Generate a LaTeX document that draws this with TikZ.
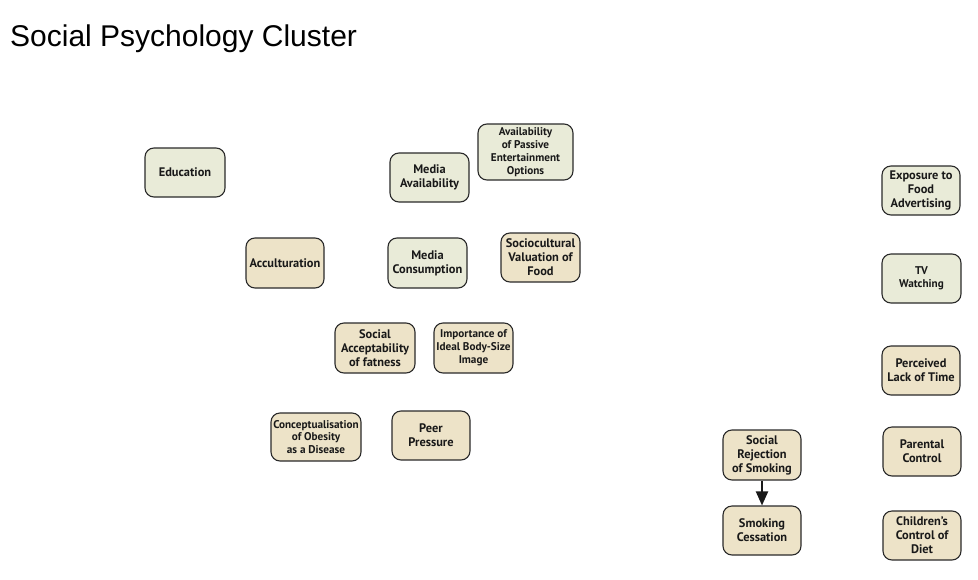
\documentclass[tikz,border=0pt]{standalone}
\usepackage{fontspec}
\setmainfont{PT Sans}
\newfontfamily\titlefont{Liberation Sans}
\usetikzlibrary{arrows.meta}
\definecolor{boxgreen}{HTML}{E9EBD8}
\definecolor{boxtan}{HTML}{EDE3C8}
\definecolor{boxline}{HTML}{2A2A2A}
\tikzset{
  box/.style={draw=boxline, line width=1.1pt, rounded corners=9pt, align=center,
    inner sep=0pt, font=\bfseries\fontsize{12.4}{14}\selectfont, text=black!90},
  gbox/.style={box, fill=boxgreen},
  tbox/.style={box, fill=boxtan},
  small/.style={font=\bfseries\fontsize{11.2}{12.8}\selectfont},
  link/.style={line width=2pt, draw=black!90, -{Triangle[length=14pt,width=12pt]}}
}
\begin{document}
\begin{tikzpicture}[x=1pt,y=-1pt]
\useasboundingbox (0,0) rectangle (978,579);
\fill[white] (0,0) rectangle (978,579);
\node[anchor=base west, font=\titlefont\fontsize{30}{32}\selectfont, inner sep=0pt] (title) at (10,46) {Social Psychology Cluster};

\node[gbox, minimum width=80pt, minimum height=49pt] (edu) at (185,172.5) {Education};
\node[gbox, minimum width=79pt, minimum height=49pt] (mavail) at (429.5,177.5) {Media\\Availability};
\node[gbox, small, minimum width=95pt, minimum height=56pt] (passive) at (525.5,152) {Availability\\of Passive\\Entertainment\\Options};
\node[tbox, minimum width=78pt, minimum height=50pt] (accult) at (285,263) {Acculturation};
\node[gbox, minimum width=79pt, minimum height=50pt] (mcons) at (427.5,263) {Media\\Consumption};
\node[tbox, minimum width=79pt, minimum height=49pt] (socio) at (540.5,257.5) {Sociocultural\\Valuation of\\Food};
\node[tbox, minimum width=80pt, minimum height=50pt] (accept) at (375,348) {Social\\Acceptability\\of fatness};
\node[tbox, small, minimum width=79pt, minimum height=50pt] (ideal) at (473.5,348) {Importance of\\Ideal Body-Size\\Image};
\node[tbox, small, minimum width=90pt, minimum height=48pt] (concept) at (316,437) {Conceptualisation\\of Obesity\\as a Disease};
\node[tbox, minimum width=78pt, minimum height=49pt] (peer) at (431,435.5) {Peer\\Pressure};
\node[tbox, minimum width=78pt, minimum height=50pt] (reject) at (762,455) {Social\\Rejection\\of Smoking};
\node[tbox, minimum width=78pt, minimum height=49pt] (cess) at (762,530.5) {Smoking\\Cessation};
\node[gbox, minimum width=78pt, minimum height=49pt] (expo) at (921,190.5) {Exposure to\\Food\\Advertising};
\node[gbox, small, minimum width=79pt, minimum height=49pt] (tv) at (921.5,278.5) {TV\\Watching};
\node[tbox, minimum width=78pt, minimum height=49pt] (lack) at (921,370.5) {Perceived\\Lack of Time};
\node[tbox, minimum width=78pt, minimum height=49pt] (parent) at (922,451.5) {Parental\\Control};
\node[tbox, minimum width=78pt, minimum height=49pt] (child) at (922,535.5) {Children’s\\Control of\\Diet};

\draw[link] (reject) -- (cess);
\end{tikzpicture}
\end{document}
